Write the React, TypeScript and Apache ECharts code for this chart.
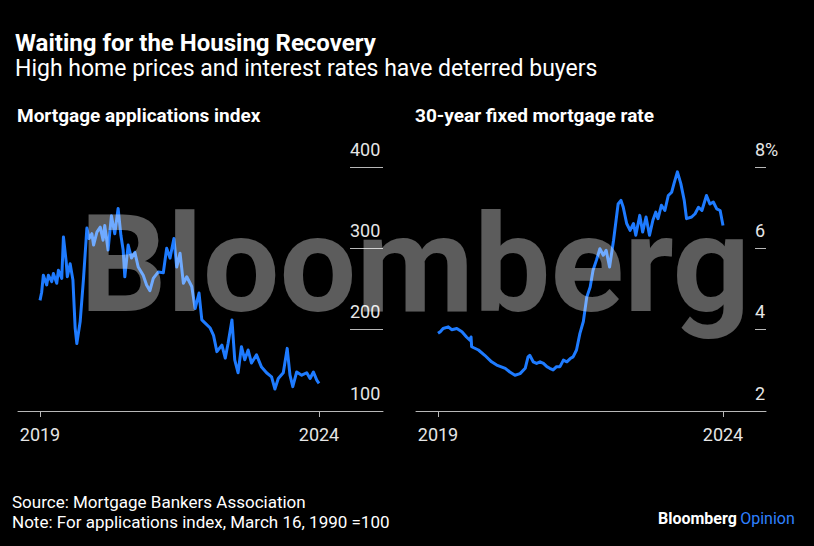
import React, { useEffect, useRef } from "react";
import * as echarts from "echarts";

// Mortgage applications index (decimal year, index value)
const appDates = [
  2019.0, 2019.03, 2019.06, 2019.12, 2019.15, 2019.21, 2019.24, 2019.3, 2019.33, 2019.39,
  2019.42, 2019.47, 2019.49, 2019.54, 2019.59, 2019.63, 2019.66, 2019.72, 2019.78, 2019.84,
  2019.88, 2019.93, 2019.96, 2020.02, 2020.08, 2020.13, 2020.16, 2020.22, 2020.28, 2020.34,
  2020.4, 2020.45, 2020.49, 2020.52, 2020.58, 2020.64, 2020.7, 2020.76, 2020.85, 2020.91,
  2020.97, 2021.03, 2021.12, 2021.21, 2021.27, 2021.33, 2021.4, 2021.45, 2021.51, 2021.57,
  2021.63, 2021.72, 2021.78, 2021.85, 2021.9, 2021.96, 2022.05, 2022.11, 2022.17, 2022.26,
  2022.32, 2022.37, 2022.44, 2022.49, 2022.55, 2022.61, 2022.67, 2022.73, 2022.79, 2022.88,
  2022.97, 2023.06, 2023.15, 2023.21, 2023.27, 2023.36, 2023.43, 2023.48, 2023.53, 2023.6,
  2023.69, 2023.78, 2023.84, 2023.9, 2023.96, 2024.0,
];
const appValues = [
  236, 246, 267, 255, 267, 259, 269, 257, 273, 263,
  314, 283, 265, 281, 261, 202, 183, 210, 263, 325,
  312, 318, 304, 320, 326, 310, 328, 298, 340, 318,
  349, 316, 298, 265, 304, 288, 295, 277, 267, 255,
  248, 263, 271, 270, 300, 288, 312, 277, 294, 257,
  265, 253, 226, 245, 212, 208, 202, 193, 173, 181,
  165, 183, 212, 163, 147, 179, 163, 175, 159, 169,
  154, 147, 142, 127, 140, 147, 177, 144, 130, 148,
  144, 147, 140, 148, 138, 134,
];

// 30-year fixed mortgage rate (decimal year, percent)
const rateDates = [
  2019.0, 2019.04, 2019.09, 2019.18, 2019.24, 2019.33, 2019.42, 2019.5, 2019.56, 2019.58,
  2019.59, 2019.71, 2019.82, 2019.94, 2020.03, 2020.18, 2020.26, 2020.35, 2020.44, 2020.53,
  2020.58, 2020.61, 2020.67, 2020.73, 2020.79, 2020.85, 2020.91, 2020.96, 2021.02, 2021.08,
  2021.14, 2021.2, 2021.26, 2021.32, 2021.37, 2021.43, 2021.49, 2021.55, 2021.61, 2021.67,
  2021.72, 2021.78, 2021.84, 2021.9, 2021.95, 2022.01, 2022.08, 2022.16, 2022.21, 2022.25,
  2022.31, 2022.37, 2022.43, 2022.47, 2022.54, 2022.59, 2022.65, 2022.71, 2022.77, 2022.82,
  2022.86, 2022.92, 2022.98, 2023.04, 2023.1, 2023.14, 2023.2, 2023.26, 2023.32, 2023.36,
  2023.45, 2023.51, 2023.57, 2023.63, 2023.71, 2023.77, 2023.83, 2023.89, 2023.95, 2024.0,
];
const rateValues = [
  3.91, 3.95, 4.03, 4.07, 4.0, 4.03, 3.95, 3.82, 3.74, 3.82,
  3.58, 3.5, 3.37, 3.21, 3.13, 3.05, 2.96, 2.88, 2.92, 3.05,
  3.33, 3.37, 3.21, 3.17, 3.21, 3.17, 3.09, 3.05, 3.01, 3.09,
  3.09, 3.25, 3.21, 3.29, 3.33, 3.5, 3.91, 4.2, 4.8, 5.05,
  5.46, 5.71, 5.99, 5.83, 5.95, 5.54, 6.2, 7.09, 7.18, 7.01,
  6.61, 6.44, 6.61, 6.32, 6.81, 6.4, 6.77, 6.32, 6.69, 6.89,
  6.73, 7.06, 6.93, 7.3, 7.38, 7.59, 7.88, 7.59, 7.18, 6.73,
  6.77, 6.85, 7.01, 6.93, 7.3, 7.09, 7.14, 6.97, 6.93, 6.56,
];

const xTickYears = [2019, 2024];

const FONT = "Roboto, 'Noto Sans', sans-serif";
const BLUE = "#1e7bff";
const AXIS_GREY = "#b8b8b8";
const LABEL = "#e6e6e6";

export default function App() {
  const ref = useRef<HTMLDivElement>(null);

  useEffect(() => {
    if (!ref.current) return;
    const chart = echarts.init(ref.current, null, { renderer: "svg" });

    const xAxisCommon = (min: number, max: number, gridIndex: number) => ({
      type: "value",
      gridIndex,
      min,
      max,
      splitLine: { show: false },
      axisLine: { show: true, lineStyle: { color: AXIS_GREY, width: 1 } },
      axisTick: {
        show: true,
        customValues: xTickYears,
        length: 6,
        lineStyle: { color: AXIS_GREY, width: 1 },
      },
      axisLabel: {
        customValues: xTickYears,
        formatter: (v: number) => String(Math.round(v)),
        color: LABEL,
        fontFamily: FONT,
        fontSize: 18,
        margin: 14,
      },
    });

    const yAxisCommon = (
      min: number,
      max: number,
      interval: number,
      gridIndex: number,
      tickLen: number,
      fmt: (v: number) => string
    ) => ({
      type: "value",
      gridIndex,
      position: "right",
      min,
      max,
      interval,
      splitLine: { show: false },
      axisLine: { show: false },
      axisTick: {
        show: true,
        inside: true,
        length: tickLen,
        lineStyle: { color: AXIS_GREY, width: 1 },
      },
      axisLabel: {
        inside: true,
        margin: tickLen,
        align: "left",
        verticalAlign: "bottom",
        padding: [0, 0, 9, 0],
        color: LABEL,
        fontFamily: FONT,
        fontSize: 18,
        formatter: fmt,
      },
    });

    const option = {
      animation: false,
      backgroundColor: "#000000",
      grid: [
        { left: 18, top: 167, width: 365, height: 244 },
        { left: 416, top: 167, width: 350, height: 244 },
      ],
      xAxis: [
        xAxisCommon(2019 - 22 / 55.8, 2019 + 343 / 55.8, 0),
        xAxisCommon(2019 - 22 / 57, 2019 + 328 / 57, 1),
      ],
      yAxis: [
        yAxisCommon(100, 400, 100, 0, 33, (v: number) => String(v)),
        yAxisCommon(2, 8, 2, 1, 11, (v: number) => (v === 8 ? "8%" : String(v))),
      ],
      series: [
        {
          type: "line",
          xAxisIndex: 0,
          yAxisIndex: 0,
          data: appDates.map((d, i) => [d, appValues[i]]),
          showSymbol: false,
          lineStyle: { color: BLUE, width: 3, join: "round" },
          z: 3,
        },
        {
          type: "line",
          xAxisIndex: 1,
          yAxisIndex: 1,
          data: rateDates.map((d, i) => [d, rateValues[i]]),
          showSymbol: false,
          lineStyle: { color: BLUE, width: 3, join: "round" },
          z: 3,
        },
      ],
      graphic: [
        {
          type: "text",
          x: 15,
          y: 43,
          style: {
            text: "Waiting for the Housing Recovery",
            fill: "#ffffff",
            fontFamily: FONT,
            fontWeight: "bold",
            fontSize: 24,
            verticalAlign: "middle",
          },
        },
        {
          type: "text",
          x: 15,
          y: 68,
          style: {
            text: "High home prices and interest rates have deterred buyers",
            fill: "#ffffff",
            fontFamily: FONT,
            fontSize: 23,
            verticalAlign: "middle",
          },
        },
        {
          type: "text",
          x: 17,
          y: 115,
          style: {
            text: "Mortgage applications index",
            fill: "#ffffff",
            fontFamily: FONT,
            fontWeight: "bold",
            fontSize: 19,
            verticalAlign: "middle",
          },
        },
        {
          type: "text",
          x: 415,
          y: 115,
          style: {
            text: "30-year fixed mortgage rate",
            fill: "#ffffff",
            fontFamily: FONT,
            fontWeight: "bold",
            fontSize: 19,
            verticalAlign: "middle",
          },
        },
        {
          type: "text",
          x: 12,
          y: 502,
          style: {
            text: "Source: Mortgage Bankers Association",
            fill: "#ffffff",
            fontFamily: FONT,
            fontSize: 17,
            verticalAlign: "middle",
          },
        },
        {
          type: "text",
          x: 12,
          y: 522,
          style: {
            text: "Note: For applications index, March 16, 1990 =100",
            fill: "#ffffff",
            fontFamily: FONT,
            fontSize: 17,
            verticalAlign: "middle",
          },
        },
        {
          type: "text",
          x: 658,
          y: 518,
          style: {
            text: "{a|Bloomberg} {b|Opinion}",
            verticalAlign: "middle",
            rich: {
              a: { fill: "#ffffff", fontFamily: FONT, fontWeight: "bold", fontSize: 16 },
              b: { fill: "#2f80ff", fontFamily: FONT, fontSize: 16 },
            },
          },
        },
        {
          type: "text",
          x: 80,
          y: 264,
          z: 100,
          silent: true,
          style: {
            text: "Bloomberg",
            fill: "rgba(255,255,255,0.36)",
            fontFamily: FONT,
            fontWeight: "bold",
            fontSize: 136,
            verticalAlign: "middle",
          },
        },
      ],
    };

    chart.setOption(option as any);
    return () => chart.dispose();
  }, []);

  return (
    <div
      ref={ref}
      style={{ position: "fixed", left: 0, top: 0, width: 814, height: 546, background: "#000" }}
    />
  );
}
